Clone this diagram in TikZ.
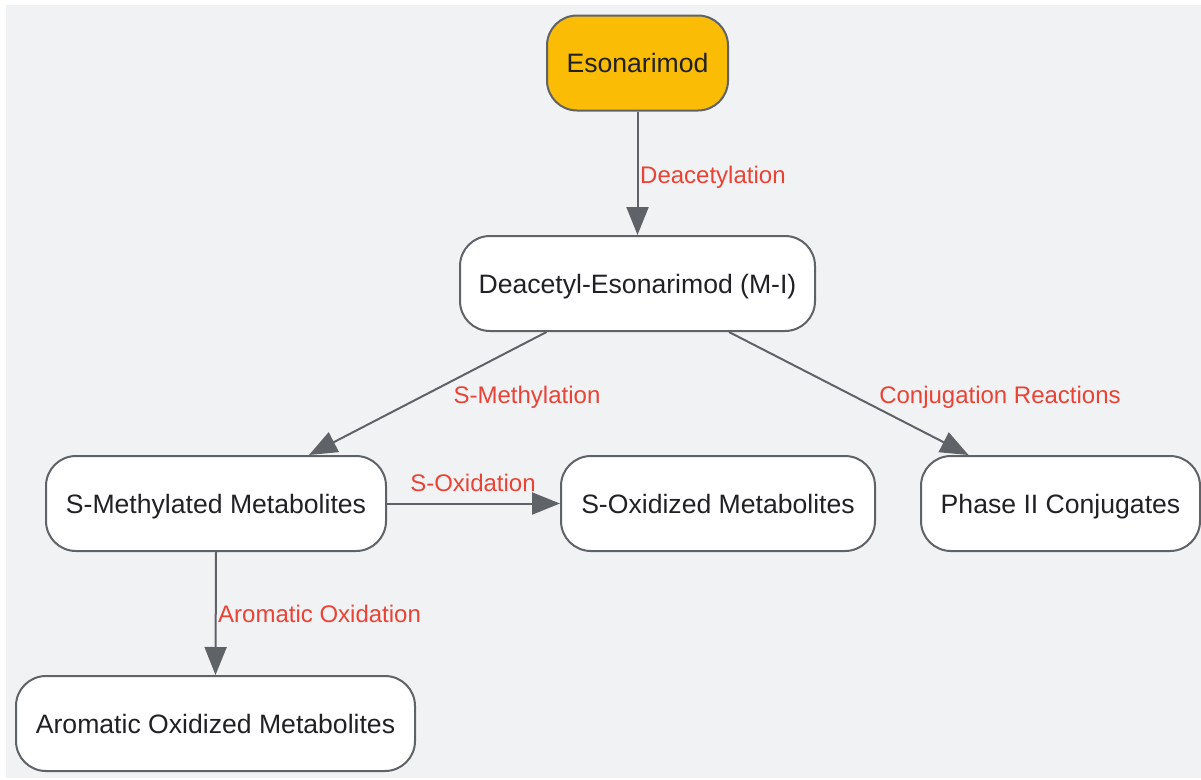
\documentclass[tikz,border=0pt]{standalone}
\usepackage{fontspec}
\setmainfont{Liberation Sans}
\usetikzlibrary{arrows.meta,calc}
\definecolor{bg}{HTML}{F1F2F4}
\definecolor{edge}{HTML}{5F6368}
\definecolor{txt}{HTML}{202124}
\definecolor{lbl}{HTML}{EA4335}
\definecolor{gold}{HTML}{FBBC05}
\tikzset{
  box/.style={draw=edge, line width=2pt, rounded corners=30pt, fill=white,
    minimum height=95pt, inner sep=0pt, text=txt, text height=19pt, text depth=0pt,
    font=\fontsize{26.6}{31}\selectfont},
  conn/.style={draw=edge, line width=2pt, -{Triangle[length=28pt,width=22pt]}},
  elabel/.style={text=lbl, inner sep=0pt, text height=17pt, text depth=0pt,
    font=\fontsize{24}{28}\selectfont}
}
\begin{document}
\begin{tikzpicture}[x=1pt,y=-1pt]
\useasboundingbox (0,0) rectangle (1201,779);
\fill[bg] (6,5) rectangle (1201,778);
\node[box, fill=gold, minimum width=181pt] (eso) at (637.5,63) {Esonarimod};
\node[box, minimum width=355pt] (dea) at (637.5,283.5) {Deacetyl-Esonarimod (M-I)};
\node[box, minimum width=340pt] (smeth) at (216,503.5) {S-Methylated Metabolites};
\node[box, minimum width=314pt] (sox) at (718,503.5) {S-Oxidized Metabolites};
\node[box, minimum width=279pt] (ph2) at (1060.5,503.5) {Phase II Conjugates};
\node[box, minimum width=399pt] (aro) at (215.5,723.5) {Aromatic Oxidized Metabolites};
\draw[conn] (eso.south) -- (dea.north);
\draw[conn] ($(dea.south)+(-91,0)$) -- ($(smeth.north)+(93,0)$);
\draw[conn] ($(dea.south)+(91.5,0)$) -- ($(ph2.north)+(-92,0)$);
\draw[conn] (smeth.east) -- (sox.west);
\draw[conn] (smeth.south) -- (aro.north);
\node[elabel, anchor=west] (l1) at (640,175) {Deacetylation};
\node[elabel] (l2) at (527,395) {S-Methylation};
\node[elabel] (l3) at (1000,395) {Conjugation Reactions};
\node[elabel] (l4) at (473,483) {S-Oxidation};
\node[elabel, anchor=west] (l5) at (218,614) {Aromatic Oxidation};
\end{tikzpicture}
\end{document}
